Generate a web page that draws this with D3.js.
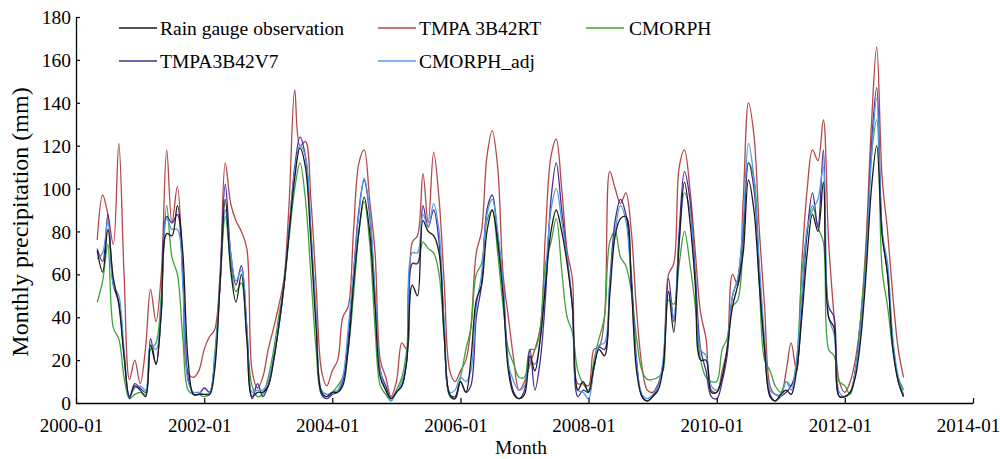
<!DOCTYPE html>
<html>
<head>
<meta charset="utf-8">
<script src="https://cdn.jsdelivr.net/npm/d3@7"></script>
<style>
  body { margin: 0; background: #fff; }
</style>
</head>
<body>
<div id="chart"></div>
<script>
// monthly values, 2000-05 .. 2012-12 (one row per year)
const startMonth = "2000-05";

const gauge = [
  71, 61, 81, 58, 46, 22, 3, 8,
  6, 3, 27, 18, 42, 79, 78, 92, 70, 20, 4, 4,
  4, 4, 15, 55, 95, 62, 47, 60, 30, 3, 5, 5,
  8, 20, 35, 55, 80, 105, 119, 110, 75, 35, 5, 3,
  5, 5, 8, 25, 55, 80, 96, 80, 45, 12, 6, 2,
  5, 8, 20, 55, 50, 85, 80, 78, 70, 30, 4, 2,
  10, 5, 20, 48, 55, 80, 90, 75, 50, 15, 4, 2,
  4, 22, 15, 30, 55, 80, 90, 80, 65, 45, 6, 10,
  5, 17, 25, 22, 50, 78, 86, 87, 55, 15, 3, 1,
  3, 6, 16, 52, 33, 75, 103, 85, 55, 20, 20, 5,
  5, 12, 25, 45, 55, 70, 104, 90, 55, 25, 3, 1,
  4, 6, 4, 15, 40, 70, 88, 80, 103, 40, 35, 3,
  3, 5, 12, 30, 60, 100, 120, 78, 60, 25, 10, 3
];

const tmpaRT = [
  76, 97, 88, 74, 121, 60, 11, 20,
  9, 26, 53, 38, 60, 118, 84, 101, 60, 14, 12, 15,
  25, 31, 34, 60, 112, 93, 85, 80, 72, 15, 7, 12,
  25, 35, 45, 58, 95, 146, 120, 122, 95, 55, 15, 8,
  15, 20, 40, 45, 80, 112, 118, 95, 70, 20, 12, 3,
  10, 28, 25, 75, 78, 107, 84, 117, 95, 55, 15, 10,
  15, 20, 35, 70, 80, 115, 127, 110, 60, 40, 20, 6,
  10, 18, 25, 35, 80, 115, 123, 100, 71, 58, 9, 9,
  8, 25, 26, 40, 108, 100, 93, 98, 80, 43, 17, 6,
  5, 9, 17, 60, 65, 110, 118, 100, 70, 42, 30, 6,
  5, 15, 25, 60, 55, 95, 140, 125, 80, 45, 8, 4,
  4, 15, 28, 15, 65, 100, 118, 113, 132, 75, 40, 10,
  5, 10, 20, 40, 75, 130, 166, 105, 80, 50, 25, 12
];

const cmorph = [
  47, 57, 74, 35, 30, 12, 2, 4,
  5, 4, 25, 28, 50, 92, 68, 60, 30, 6, 4, 4,
  3, 4, 22, 55, 87, 65, 52, 56, 30, 8, 3, 4,
  12, 25, 40, 55, 78, 100, 112, 95, 60, 25, 4, 3,
  5, 8, 12, 25, 50, 80, 94, 75, 35, 8, 4, 1,
  6, 12, 25, 65, 65, 75, 72, 70, 60, 30, 3, 2,
  12, 25, 35, 60, 65, 85, 90, 70, 45, 25, 18, 12,
  12, 25, 25, 35, 65, 75, 86, 62, 40, 33, 15, 9,
  6, 20, 30, 40, 75, 80, 68, 64, 52, 30, 15, 11,
  11, 12, 15, 48, 46, 65, 80, 65, 45, 20, 12, 10,
  10, 25, 30, 45, 48, 75, 112, 105, 55, 20, 15, 8,
  5, 10, 8, 20, 60, 80, 92, 82, 75, 25, 22, 10,
  8, 4, 15, 40, 70, 115, 132, 62, 45, 25, 12, 6
];

const tmpaV7 = [
  72, 66, 88, 55, 47, 22, 2, 9,
  7, 5, 30, 18, 42, 87, 84, 88, 60, 12, 4, 4,
  7, 5, 18, 55, 102, 70, 55, 64, 35, 2, 9, 3,
  8, 20, 35, 55, 82, 110, 124, 115, 80, 40, 4, 2,
  4, 5, 10, 30, 60, 90, 104, 88, 50, 15, 8, 2,
  5, 8, 20, 65, 65, 92, 82, 90, 75, 35, 4, 3,
  10, 5, 8, 40, 55, 90, 97, 78, 55, 18, 5, 2,
  6, 25, 6, 20, 50, 95, 112, 90, 68, 45, 3, 6,
  5, 16, 26, 25, 56, 85, 95, 88, 60, 20, 3, 1,
  3, 8, 18, 58, 38, 80, 108, 95, 60, 25, 15, 3,
  2, 10, 22, 50, 58, 80, 112, 100, 60, 25, 4, 1,
  3, 5, 8, 15, 45, 80, 98, 82, 118, 45, 40, 3,
  3, 5, 15, 35, 65, 120, 147, 80, 60, 28, 10, 3
];

const cmorphAdj = [
  67, 70, 85, 55, 50, 25, 3, 7,
  8, 6, 27, 25, 45, 86, 81, 81, 55, 10, 5, 5,
  4, 5, 20, 55, 90, 70, 57, 62, 35, 5, 6, 6,
  10, 22, 35, 55, 82, 108, 120, 115, 80, 40, 6, 4,
  5, 6, 12, 35, 60, 88, 105, 90, 50, 15, 6, 1,
  5, 10, 20, 70, 70, 88, 82, 93, 80, 35, 5, 6,
  12, 10, 15, 45, 60, 88, 95, 80, 55, 18, 10, 6,
  8, 20, 18, 30, 60, 90, 100, 85, 68, 45, 6, 5,
  2, 17, 27, 28, 55, 80, 92, 85, 55, 18, 4, 2,
  4, 8, 20, 52, 40, 75, 98, 90, 55, 25, 22, 8,
  6, 12, 25, 50, 58, 85, 121, 105, 65, 30, 6, 4,
  3, 10, 6, 20, 50, 82, 90, 95, 110, 40, 32, 5,
  3, 5, 15, 35, 65, 115, 142, 80, 65, 30, 12, 4
];

const seriesNames = ["Rain gauge observation", "TMPA 3B42RT", "CMORPH", "TMPA3B42V7", "CMORPH_adj"];
const seriesColors = ["#1a1a1a", "#b4474b", "#3ea33b", "#4b2a94", "#4f9be6"];
const xTickLabels = ["2000-01", "2002-01", "2004-01", "2006-01", "2008-01", "2010-01", "2012-01", "2014-01"];
const yTicks = [0, 20, 40, 60, 80, 100, 120, 140, 160, 180];

const W = 1000, H = 459;
const FONT = "Liberation Serif";
const parse = d3.timeParse("%Y-%m");
const x0 = 76, x1 = 973, yBottom = 403, yTop = 17;

const svg = d3.select("#chart").append("svg")
  .attr("width", W).attr("height", H)
  .attr("font-family", FONT);

const x = d3.scaleTime()
  .domain([parse("2000-01"), parse("2014-01")])
  .range([x0, x1]);
const y = d3.scaleLinear()
  .domain([0, 180])
  .range([yBottom, yTop]);

const start = parse(startMonth);
const months = d3.range(gauge.length).map(i => d3.timeMonth.offset(start, i));

const allSeries = [gauge, tmpaRT, cmorph, tmpaV7, cmorphAdj];

const line = d3.line()
  .x((d, i) => x(months[i]))
  .y(d => y(d))
  .curve(d3.curveCatmullRom.alpha(0.5));

// draw order: red, green, purple, blue, black on top
const order = [1, 2, 3, 4, 0];
svg.append("g").selectAll("path")
  .data(order)
  .join("path")
  .attr("d", k => line(allSeries[k]))
  .attr("fill", "none")
  .attr("stroke", k => seriesColors[k])
  .attr("stroke-width", 1.3);

// x axis
const xAxis = d3.axisBottom(x)
  .tickValues(xTickLabels.map(parse))
  .tickFormat(d3.timeFormat("%Y-%m"))
  .tickSizeInner(-5).tickSizeOuter(0);
const gx = svg.append("g")
  .attr("transform", `translate(0,${yBottom})`)
  .call(xAxis)
  .attr("font-family", FONT).attr("font-size", 19);
gx.select(".domain").attr("stroke", "#000").attr("stroke-width", 1.3);
gx.selectAll(".tick line").attr("stroke", "#000").attr("stroke-width", 1.2);
gx.selectAll(".tick text")
  .attr("y", 29).attr("dy", 0).attr("dx", -5)
  .attr("fill", "#000");

// y axis
const yAxis = d3.axisLeft(y)
  .tickValues(yTicks)
  .tickSizeInner(-4).tickSizeOuter(0);
const gy = svg.append("g")
  .attr("transform", `translate(${x0},0)`)
  .call(yAxis)
  .attr("font-family", FONT).attr("font-size", 19.5);
gy.select(".domain").attr("stroke", "#000").attr("stroke-width", 1.3);
gy.selectAll(".tick line").attr("stroke", "#000").attr("stroke-width", 1.2);
gy.selectAll(".tick text")
  .attr("x", -5).attr("dy", "0.34em")
  .attr("fill", "#000");

// axis titles
svg.append("text")
  .attr("x", 521).attr("y", 454)
  .attr("text-anchor", "middle")
  .attr("font-size", 19.5)
  .text("Month");
svg.append("text")
  .attr("transform", "translate(28,222) rotate(-90)")
  .attr("text-anchor", "middle")
  .attr("font-size", 24)
  .text("Monthly precipitation (mm)");

// legend
const legendPos = [
  {lx: 119, ty: 35}, {lx: 378, ty: 35}, {lx: 586, ty: 35},
  {lx: 119, ty: 68}, {lx: 378, ty: 68}
];
const lg = svg.append("g").selectAll("g")
  .data(seriesNames)
  .join("g")
  .attr("transform", (d, i) => `translate(${legendPos[i].lx},${legendPos[i].ty})`);
lg.append("line")
  .attr("x1", 0).attr("x2", 38)
  .attr("y1", -7).attr("y2", -7)
  .attr("stroke", (d, i) => seriesColors[i])
  .attr("stroke-width", 1.5);
lg.append("text")
  .attr("x", (d, i) => i === 2 ? 43 : 41)
  .attr("y", 0)
  .attr("font-size", 19.5)
  .text(d => d);
</script>
</body>
</html>
